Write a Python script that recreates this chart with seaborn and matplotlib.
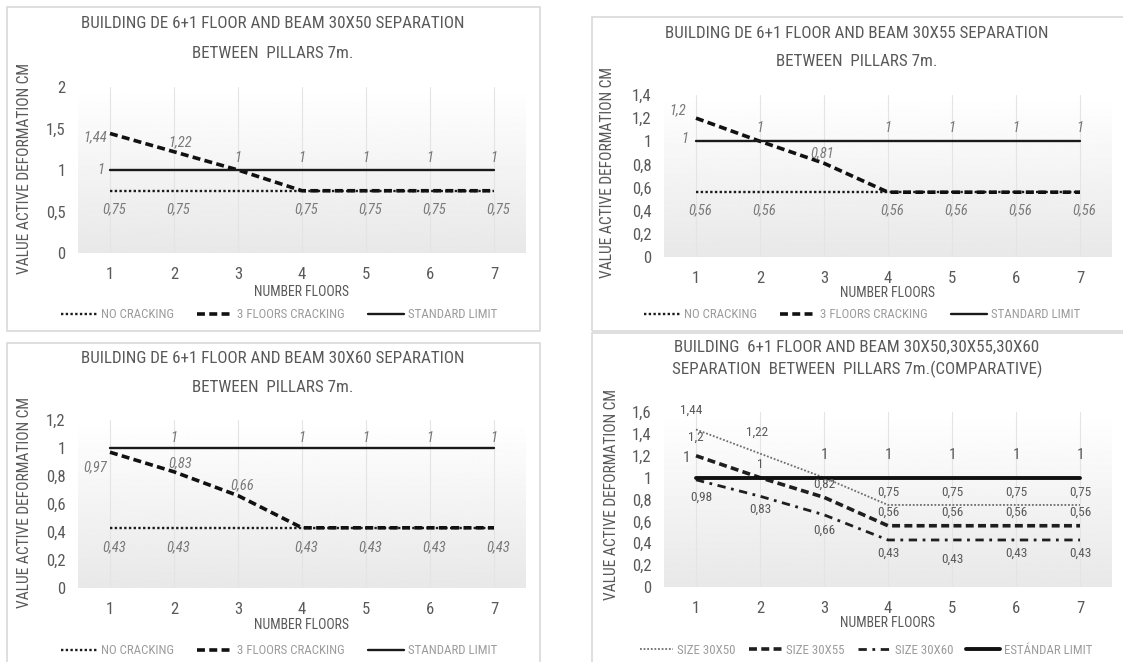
import numpy as np
import pandas as pd
import matplotlib
matplotlib.use("Agg")
import matplotlib.pyplot as plt
import seaborn as sns
from matplotlib import font_manager
from matplotlib.patches import Rectangle

# ---------------- data ----------------
FLOORS = [1, 2, 3, 4, 5, 6, 7]

P50_NO = [0.75, 0.75, 0.75, 0.75, 0.75, 0.75, 0.75]
P50_CRACK = [1.44, 1.22, 1.00, 0.75, 0.75, 0.75, 0.75]
P55_NO = [0.56, 0.56, 0.56, 0.56, 0.56, 0.56, 0.56]
P55_CRACK = [1.20, 1.00, 0.81, 0.56, 0.56, 0.56, 0.56]
P60_NO = [0.43, 0.43, 0.43, 0.43, 0.43, 0.43, 0.43]
P60_CRACK = [0.97, 0.83, 0.66, 0.43, 0.43, 0.43, 0.43]
LIMIT = [1, 1, 1, 1, 1, 1, 1]

C50 = [1.44, 1.22, 1.00, 0.75, 0.75, 0.75, 0.75]
C55 = [1.20, 1.00, 0.82, 0.56, 0.56, 0.56, 0.56]
C60 = [0.98, 0.83, 0.66, 0.43, 0.43, 0.43, 0.43]

YT_50 = [0, 0.5, 1, 1.5, 2]
YT_55 = [0, 0.2, 0.4, 0.6, 0.8, 1, 1.2, 1.4]
YT_60 = [0, 0.2, 0.4, 0.6, 0.8, 1, 1.2]
YT_CMP = [0, 0.2, 0.4, 0.6, 0.8, 1, 1.2, 1.4, 1.6]

TITLE_50 = ["BUILDING DE 6+1 FLOOR AND BEAM 30X50 SEPARATION", "BETWEEN  PILLARS 7m."]
TITLE_55 = ["BUILDING DE 6+1 FLOOR AND BEAM 30X55 SEPARATION", "BETWEEN  PILLARS 7m."]
TITLE_60 = ["BUILDING DE 6+1 FLOOR AND BEAM 30X60 SEPARATION", "BETWEEN  PILLARS 7m."]
TITLE_CMP = ["BUILDING  6+1 FLOOR AND BEAM 30X50,30X55,30X60",
             "SEPARATION  BETWEEN  PILLARS 7m.(COMPARATIVE)"]
YLABEL = "VALUE ACTIVE DEFORMATION CM"
XLABEL = "NUMBER FLOORS"
LEG_SINGLE = ["NO CRACKING", "3 FLOORS CRACKING", "STANDARD LIMIT"]
LEG_CMP = ["SIZE 30X50", "SIZE 30X55", "SIZE 30X60", "ESTÁNDAR LIMIT"]

# ---------------- style ----------------
sns.set_theme(style="white")
avail = {f.name for f in font_manager.fontManager.ttflist}
FONT = next((f for f in ["Liberation Sans Narrow", "Roboto Condensed", "Open Sans Condensed",
                         "Lato", "DejaVu Sans"] if f in avail), "DejaVu Sans")
plt.rcParams["font.family"] = [FONT, "DejaVu Sans"]

W, H = 1123, 662
fig = plt.figure(figsize=(W / 100, H / 100), dpi=100)
fig.patch.set_facecolor("white")
renderer = fig.canvas.get_renderer()

GRAY = "#595959"
LIGHT = "#9c9c9c"
LBL = "#7a7a7a"


def fx(x):
    return x / W


def fy(y):
    return 1 - y / H


def fit(s, target, **kw):
    t = fig.text(0, 0, s, fontsize=10, **kw)
    w = t.get_window_extent(renderer).width
    t.remove()
    return 10 * target / w


TITLE_FS = fit(TITLE_50[0], 384)
YLAB_FS = fit(YLABEL, 212)
XLAB_FS = fit(XLABEL, 96)
TICK_FS = 12
LEG_FS = fit("STANDARD LIMIT", 90)


def fmt(v):
    return f"{v:g}".replace(".", ",")


grad = np.linspace(1.0, 0.91, 256).reshape(-1, 1)


def make_panel(frame, ax_px, ylim, yticks, title, title_y, title_cx, ylab_xy, xlab_xy):
    x0, y0, x1, y1 = frame
    fig.patches.append(Rectangle((fx(x0), fy(y1)), fx(x1) - fx(x0), fy(y0) - fy(y1),
                                 transform=fig.transFigure, fill=False,
                                 edgecolor="#d9d9d9", lw=1.2, zorder=0))
    ax_l, ax_t, ax_r, ax_b = ax_px
    ax = fig.add_axes([fx(ax_l), fy(ax_b), fx(ax_r) - fx(ax_l), fy(ax_t) - fy(ax_b)])
    ax.set_facecolor("none")
    ax.imshow(grad, extent=[0, 1, 0, 1], transform=ax.transAxes, aspect="auto",
              cmap="gray", vmin=0, vmax=1, zorder=0, interpolation="bilinear")
    for s in ax.spines.values():
        s.set_visible(False)
    ax.set_xlim(0.5, 7.5)
    ax.set_ylim(*ylim)
    ax.set_xticks(FLOORS)
    ax.set_xticklabels([str(f) for f in FLOORS])
    ax.set_yticks(yticks)
    ax.set_yticklabels([fmt(t) for t in yticks])
    ax.tick_params(axis="y", length=0, pad=9, labelsize=TICK_FS, labelcolor=GRAY)
    ax.tick_params(axis="x", length=0, pad=10, labelsize=TICK_FS, labelcolor=GRAY)
    ax.grid(axis="x", color="#e4e4e4", lw=0.8, zorder=1)
    ax.grid(axis="y", visible=False)
    ax.set_xlabel("")
    ax.set_ylabel("")
    for line, ty in zip(title, title_y):
        fig.text(fx(title_cx), fy(ty), line, ha="center", va="center",
                 fontsize=TITLE_FS, color=GRAY)
    fig.text(fx(ylab_xy[0]), fy(ylab_xy[1]), YLABEL, rotation=90, ha="center", va="center",
             fontsize=YLAB_FS, color=GRAY)
    fig.text(fx(xlab_xy[0]), fy(xlab_xy[1]), XLABEL, ha="center", va="center",
             fontsize=XLAB_FS, color=GRAY)
    return ax


def draw(ax, vals, color, lw, ls, label):
    sns.lineplot(x=FLOORS, y=vals, ax=ax, color=color, lw=lw, legend=False, zorder=3)
    ln = ax.lines[-1]
    ln.set_linestyle(ls)
    ln.set_label(label)
    return ln


def labels(ax, vals, specs, color=LBL, style="italic", fs=10.5):
    for idx, dx, dy, ha in specs:
        ax.annotate(fmt(vals[idx]), (FLOORS[idx], vals[idx]), xytext=(dx, dy),
                    textcoords="offset pixels", ha=ha, va="center", fontsize=fs,
                    color=color, fontstyle=style, zorder=5)


def legend(ax, handles, names, cx, cy, ncol, hl, cs):
    ax.legend(handles, names, loc="center", bbox_to_anchor=(fx(cx), fy(cy)),
              bbox_transform=fig.transFigure, ncol=ncol, frameon=False, fontsize=LEG_FS,
              labelcolor=LIGHT, handlelength=hl, handletextpad=0.3, columnspacing=cs,
              borderpad=0, borderaxespad=0)


DOT = (0, (1, 1))
DASH = (0, (2.2, 1.2))
DASHDOT = (0, (3, 2, 1, 2))

single = [
    dict(frame=(7, 7, 540, 331), ax_px=(78, 87, 526, 253), ylim=(0, 2), yticks=YT_50,
         title=TITLE_50, title_y=(23, 53), title_cx=273, ylab=(25, 168), xlab=(302, 292),
         leg=(279, 315), no=P50_NO, crack=P50_CRACK,
         crack_specs=[(0, -3, -4, "right"), (1, 6, 9, "center")],
         std_specs=[(0, -6, 0, "right")] + [(i, 0, 12, "center") for i in (2, 3, 4, 5, 6)],
         no_specs=[(i, 4, -19, "center") for i in (0, 1, 3, 4, 5, 6)]),
    dict(frame=(592, 17, 1130, 331), ax_px=(664, 95, 1112, 257), ylim=(0, 1.4), yticks=YT_55,
         title=TITLE_55, title_y=(33, 62), title_cx=857, ylab=(608, 172), xlab=(888, 293),
         leg=(862, 315), no=P55_NO, crack=P55_CRACK,
         crack_specs=[(0, -10, 8, "right"), (2, -2, 10, "center")],
         std_specs=[(0, -8, 2, "right")] + [(i, 0, 13, "center") for i in (1, 3, 4, 5, 6)],
         no_specs=[(i, 4, -18, "center") for i in (0, 1, 3, 4, 5, 6)]),
    dict(frame=(7, 343, 540, 670), ax_px=(78, 420, 526, 588), ylim=(0, 1.2), yticks=YT_60,
         title=TITLE_60, title_y=(358, 387), title_cx=273, ylab=(25, 502), xlab=(302, 625),
         leg=(279, 651), no=P60_NO, crack=P60_CRACK,
         crack_specs=[(0, -15, -15, "center"), (1, 6, 9, "center"), (2, 4, 10, "center")],
         std_specs=[(i, 0, 10, "center") for i in (1, 3, 4, 5, 6)],
         no_specs=[(i, 4, -19, "center") for i in (0, 1, 3, 4, 5, 6)]),
]

for p in single:
    ax = make_panel(p["frame"], p["ax_px"], p["ylim"], p["yticks"], p["title"], p["title_y"],
                    p["title_cx"], p["ylab"], p["xlab"])
    h1 = draw(ax, p["no"], "#1a1a1a", 1.7, DOT, LEG_SINGLE[0])
    h2 = draw(ax, p["crack"], "#111111", 2.6, DASH, LEG_SINGLE[1])
    h3 = draw(ax, LIMIT, "#1a1a1a", 1.7, "-", LEG_SINGLE[2])
    labels(ax, p["crack"], p["crack_specs"])
    labels(ax, LIMIT, p["std_specs"])
    labels(ax, p["no"], p["no_specs"])
    legend(ax, [h1, h2, h3], LEG_SINGLE, p["leg"][0], p["leg"][1], 3, 2.8, 1.8)

# comparative panel
ax = make_panel((592, 333, 1130, 670), (664, 412, 1112, 587), (0, 1.6), YT_CMP, TITLE_CMP,
                (347, 369), 857, (612, 495), (888, 623))
g1 = draw(ax, C50, "#6e6e6e", 1.3, DOT, LEG_CMP[0])
g2 = draw(ax, C55, "#1f1f1f", 2.6, DASH, LEG_CMP[1])
g3 = draw(ax, C60, "#1f1f1f", 2.0, DASHDOT, LEG_CMP[2])
g4 = draw(ax, LIMIT, "#111111", 2.8, "-", LEG_CMP[3])
CF = 9.5
labels(ax, C50, [(0, -5, 19, "center"), (1, -3, 21, "center")] +
       [(i, 0, 13, "center") for i in (3, 4, 5, 6)], color=GRAY, style="normal", fs=CF)
labels(ax, C55, [(0, 0, 18, "center"), (1, 0, 13, "center"), (2, 0, 13, "center")] +
       [(i, 0, 13, "center") for i in (3, 4, 5, 6)], color=GRAY, style="normal", fs=CF)
labels(ax, C60, [(0, 5, -17, "center"), (1, 0, -13, "center"), (2, 0, -15, "center"),
                 (3, 0, -13, "center"), (4, 0, -19, "center"), (5, 0, -13, "center"),
                 (6, 0, -13, "center")], color=GRAY, style="normal", fs=CF)
labels(ax, LIMIT, [(0, -10, 20, "center")] + [(i, 0, 23, "center") for i in (2, 3, 4, 5, 6)],
       color=GRAY, style="normal", fs=CF + 1.5)
legend(ax, [g1, g2, g3, g4], LEG_CMP, 866, 650, 4, 2.6, 1.0)

fig.savefig("out.png", dpi=100, facecolor="white")
